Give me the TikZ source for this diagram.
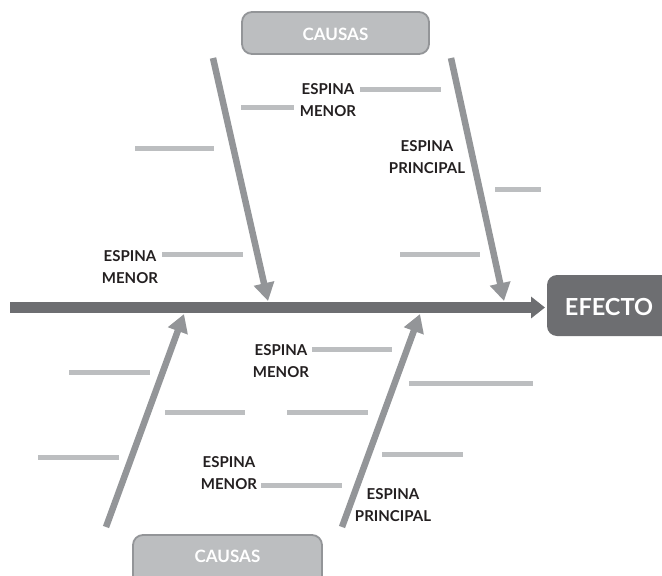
\documentclass[tikz,border=0pt]{standalone}
\usepackage{fontspec}
\setmainfont{Lato}
\usetikzlibrary{arrows.meta}
\definecolor{darkg}{HTML}{6D6E71}
\definecolor{midg}{HTML}{939598}
\definecolor{lightg}{HTML}{BCBEC0}
\definecolor{ink}{HTML}{231F20}
\tikzset{
  minorbone/.style={draw=lightg, line width=5pt},
  mainbone/.style={draw=midg, line width=6.5pt, -{Triangle[width=20pt,length=18pt]}},
  spine/.style={draw=darkg, line width=11pt, -{Triangle[width=21pt,length=14pt]}},
  lbl/.style={font=\bfseries\fontsize{15}{21.5}\selectfont, text=ink, align=center, inner sep=0pt},
  causebox/.style={draw=midg, line width=1.8pt, fill=lightg, rounded corners=10pt},
  causetxt/.style={font=\bfseries\fontsize{17}{20}\selectfont, text=white, inner sep=0pt},
}
\begin{document}
\begin{tikzpicture}[x=1pt,y=-1pt]
\useasboundingbox (0,0) rectangle (662,576);
\clip (0,0) rectangle (662,576);
% boxes
\draw[causebox] (242,12) rectangle (429,54);
\node[causetxt] (ctop) at (335.5,34) {CAUSAS};
\draw[causebox] (133,535) rectangle (322,590);
\node[causetxt] (cbot) at (227.5,556) {CAUSAS};
\fill[darkg, rounded corners=10pt] (547,275) rectangle (680,336);
\node[font=\bfseries\fontsize{23.5}{26}\selectfont, text=white, inner sep=0pt] (efecto) at (609,307) {EFECTO};
% coordinates
\coordinate (s0) at (10,307.5);
\coordinate (s1) at (545,307.5);
\coordinate (a0) at (213,58);
\coordinate (a1) at (268,301);
\coordinate (b0) at (451,58);
\coordinate (b1) at (504,301);
\coordinate (c0) at (106,527);
\coordinate (c1) at (184,314);
\coordinate (d0) at (342,527);
\coordinate (d1) at (420,314);
% spine
\draw[spine] (s0) -- (s1);
% main bones
\draw[mainbone] (a0) -- (a1);
\draw[mainbone] (b0) -- (b1);
\draw[mainbone] (c0) -- (c1);
\draw[mainbone] (d0) -- (d1);
% minor bones top
\draw[minorbone] (360,89) -- (441,89);
\draw[minorbone] (241,107) -- (294,107);
\draw[minorbone] (135,148) -- (214,148);
\draw[minorbone] (495,189) -- (541,189);
\draw[minorbone] (162,254) -- (243,254);
\draw[minorbone] (400,254) -- (480,254);
% minor bones bottom
\draw[minorbone] (312,349) -- (392,349);
\draw[minorbone] (69,372) -- (150,372);
\draw[minorbone] (409,383) -- (533,383);
\draw[minorbone] (165,412) -- (245,412);
\draw[minorbone] (287,412) -- (368,412);
\draw[minorbone] (38,457) -- (119,457);
\draw[minorbone] (382,454) -- (463,454);
\draw[minorbone] (261,485) -- (342,485);
% labels
\node[lbl] (l1) at (328,100) {ESPINA\\MENOR};
\node[lbl] (l2) at (427,157) {ESPINA\\PRINCIPAL};
\node[lbl] (l3) at (130,267) {ESPINA\\MENOR};
\node[lbl] (l4) at (281,361) {ESPINA\\MENOR};
\node[lbl] (l5) at (229,473) {ESPINA\\MENOR};
\node[lbl] (l6) at (393,505) {ESPINA\\PRINCIPAL};
\end{tikzpicture}
\end{document}
